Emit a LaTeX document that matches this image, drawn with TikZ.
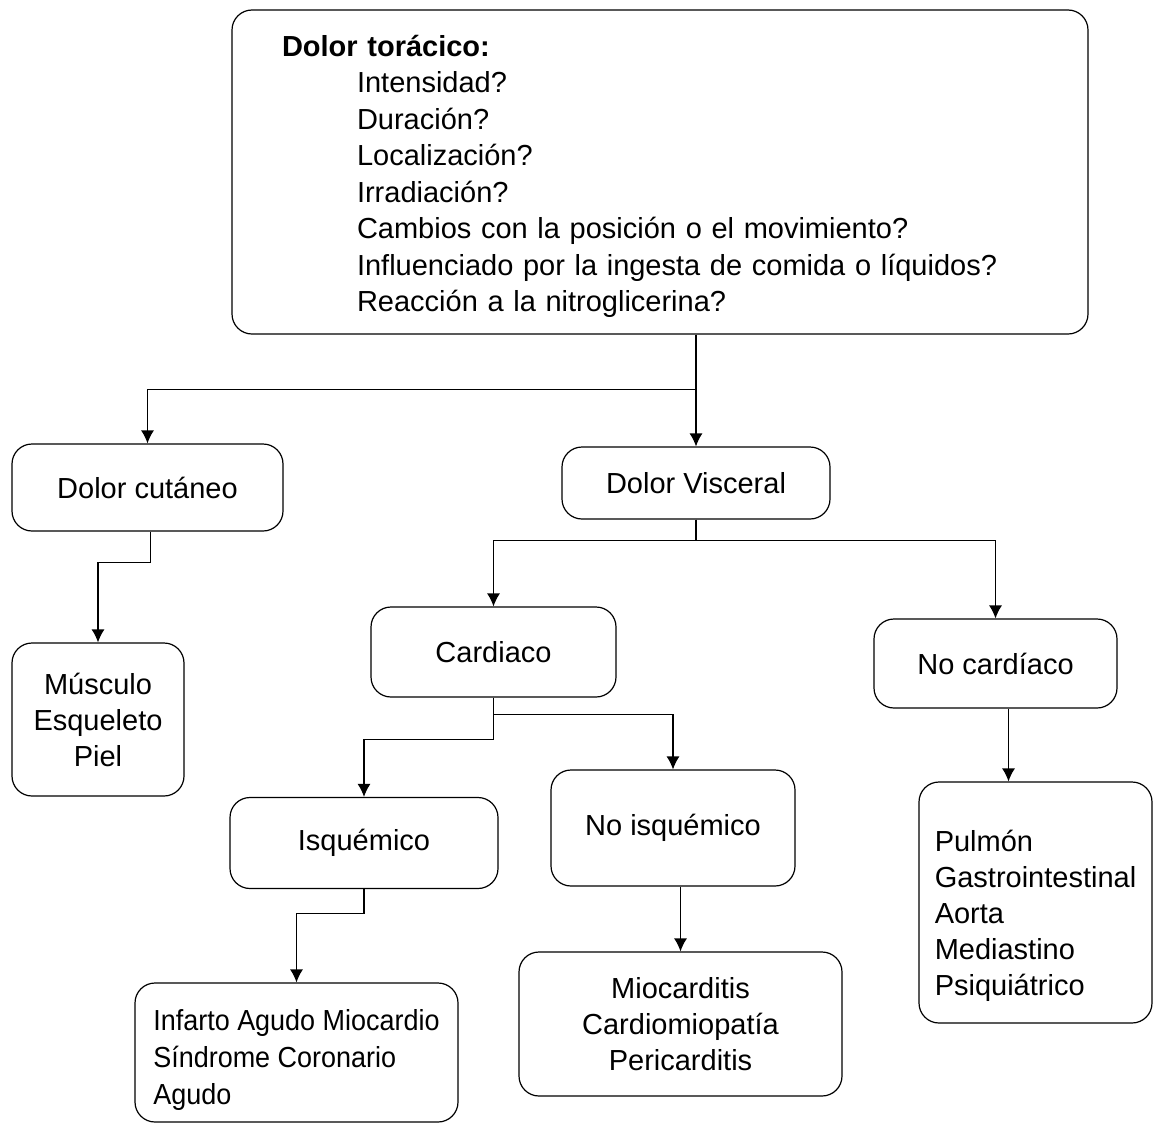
\documentclass[tikz,border=0pt]{standalone}
\usepackage{fontspec}
\setmainfont{Liberation Sans}
\newfontfamily\narrowfont{Liberation Sans}[FakeStretch=0.93]
\usetikzlibrary{arrows.meta}

\begin{document}
\begin{tikzpicture}[x=1pt, y=-1pt, >={Latex[length=13pt,width=13pt]}, line width=1.2pt,
  caja/.style={draw, rounded corners=20pt, inner sep=0pt, align=center,
    font=\fontsize{29}{36}\selectfont}]
  \useasboundingbox (0,0) rectangle (1155,1124);
  % cajas
  \node[caja, minimum width=856pt, minimum height=324pt, text width=756pt, align=left,
    font=\fontsize{29}{36.5}\selectfont] (torax) at (660,172)
    {\rule{0pt}{30pt}{\bfseries Dolor torácico:}\\
     \hspace*{75pt}Intensidad?\\
     \hspace*{75pt}Duración?\\
     \hspace*{75pt}Localización?\\
     \hspace*{75pt}Irradiación?\\
     \hspace*{75pt}Cambios con la posición o el movimiento?\\
     \hspace*{75pt}Influenciado por la ingesta de comida o líquidos?\\
     \hspace*{75pt}Reacción a la nitroglicerina?};
  \node[caja, minimum width=271pt, minimum height=87pt] (cutaneo) at (147.5,487.5) {Dolor cutáneo};
  \node[caja, minimum width=268pt, minimum height=72pt] (visceral) at (696,483) {Dolor Visceral};
  \node[caja, minimum width=172pt, minimum height=153pt] (musculo) at (98,719.5) {Músculo\\Esqueleto\\Piel};
  \node[caja, minimum width=245pt, minimum height=90pt] (cardiaco) at (493.5,652) {Cardiaco};
  \node[caja, minimum width=243pt, minimum height=89pt] (nocard) at (995.5,663.5) {No cardíaco};
  \node[caja, minimum width=268pt, minimum height=91pt] (isq) at (364,843) {Isquémico};
  \node[caja, minimum width=244pt, minimum height=116pt] (noisq) at (673,828) {No isquémico};
  \node[caja, minimum width=233pt, minimum height=241pt, align=left] (pulmon) at (1035.5,902.5)
    {\rule{0pt}{48pt}Pulmón\\Gastrointestinal\\Aorta\\Mediastino\\Psiquiátrico};
  \node[caja, minimum width=323pt, minimum height=139pt, align=left,
    font=\narrowfont\fontsize{29}{37}\selectfont] (infarto) at (296.5,1052.5)
    {\rule{0pt}{36pt}Infarto Agudo Miocardio\\Síndrome Coronario\\Agudo};
  \node[caja, minimum width=323pt, minimum height=144pt] (mio) at (680.5,1024)
    {Miocarditis\\Cardiomiopatía\\Pericarditis};
  % conectores
  \draw[->] (torax.south -| visceral.north) -- ++(0,55) -| (cutaneo.north);
  \draw[->] (torax.south -| visceral.north) -- (visceral.north);
  \draw[->] ([xshift=3pt]cutaneo.south) -- ++(0,31) -| (musculo.north);
  \draw[->] (visceral.south) -- ++(0,21) -| (cardiaco.north);
  \draw[->] (visceral.south) -- ++(0,21) -| (nocard.north);
  \draw[->] (cardiaco.south) -- ++(0,42) -| (isq.north);
  \draw[->] (cardiaco.south) -- ++(0,17) -| (noisq.north);
  \draw[->] (isq.south) -- ++(0,24) -| (infarto.north);
  \draw[->] (noisq.south -| mio.north) -- (mio.north);
  \draw[->] ([xshift=13pt]nocard.south) -- ([xshift=13pt]nocard.south |- pulmon.north);
\end{tikzpicture}
\end{document}
